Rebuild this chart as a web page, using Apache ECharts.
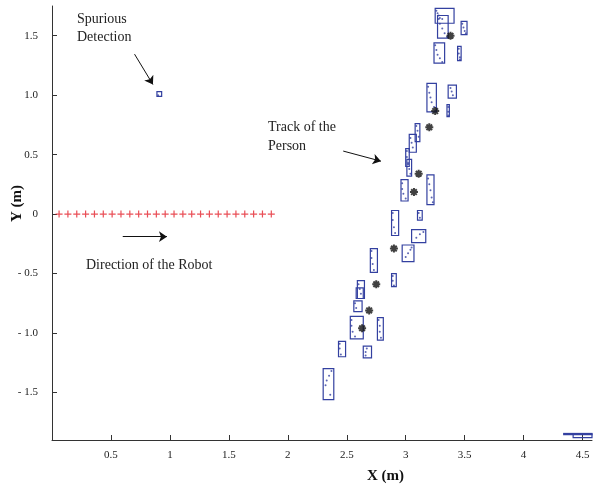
<!DOCTYPE html>
<html>
<head>
<meta charset="utf-8">
<script src="https://cdn.jsdelivr.net/npm/echarts@6/dist/echarts.min.js"></script>
<style>
  html, body { margin: 0; padding: 0; background: #fff; }
  #chart { width: 593px; height: 489px; }
</style>
</head>
<body>
<div id="chart"></div>
<script>
// tick positions
const xTicks = [0.5, 1, 1.5, 2, 2.5, 3, 3.5, 4, 4.5]
const yTicks = [-1.5, -1, -0.5, 0, 0.5, 1, 1.5]

// detection boxes [xmin, ymin, xmax, ymax]
const boxes = [
  [3.25, 1.605, 3.41, 1.73],
  [3.27, 1.48, 3.36, 1.67],
  [3.47, 1.51, 3.52, 1.62],
  [3.24, 1.27, 3.33, 1.44],
  [3.44, 1.29, 3.47, 1.41],
  [3.18, 0.86, 3.26, 1.10],
  [3.36, 0.975, 3.43, 1.085],
  [3.35, 0.82, 3.37, 0.92],
  [3.08, 0.61, 3.12, 0.76],
  [3.03, 0.52, 3.09, 0.67],
  [3.00, 0.40, 3.03, 0.55],
  [3.01, 0.32, 3.05, 0.46],
  [2.96, 0.11, 3.02, 0.29],
  [3.18, 0.08, 3.24, 0.33],
  [2.88, -0.18, 2.94, 0.03],
  [3.10, -0.05, 3.14, 0.03],
  [3.05, -0.24, 3.17, -0.13],
  [2.97, -0.40, 3.07, -0.26],
  [2.70, -0.49, 2.76, -0.29],
  [2.88, -0.61, 2.92, -0.50],
  [2.59, -0.71, 2.65, -0.56],
  [2.58, -0.71, 2.64, -0.62],
  [2.56, -0.82, 2.63, -0.73],
  [2.53, -1.05, 2.64, -0.86],
  [2.76, -1.06, 2.81, -0.87],
  [2.43, -1.20, 2.49, -1.07],
  [2.64, -1.21, 2.71, -1.11],
  [2.30, -1.56, 2.39, -1.30],
  [0.89, 0.99, 0.93, 1.03],
  [4.42, -1.88, 4.58, -1.85],
  [4.34, -1.855, 4.58, -1.845]
]

// laser points inside the boxes
const laserPoints = [
  [3.26, 1.71], [3.27, 1.69], [3.28, 1.67], [3.29, 1.65], [3.31, 1.64],
  [3.28, 1.64], [3.29, 1.60], [3.31, 1.56], [3.33, 1.52], [3.35, 1.49],
  [3.48, 1.60], [3.49, 1.57], [3.50, 1.54], [3.51, 1.52],
  [3.25, 1.42], [3.26, 1.38], [3.27, 1.34], [3.29, 1.31], [3.31, 1.28],
  [3.45, 1.39], [3.45, 1.35], [3.46, 1.32], [3.46, 1.30],
  [3.19, 1.07], [3.20, 1.02], [3.21, 0.98], [3.22, 0.94], [3.24, 0.90], [3.25, 0.87],
  [3.38, 1.06], [3.39, 1.03], [3.40, 1.00],
  [3.36, 0.90], [3.36, 0.86], [3.36, 0.83],
  [3.09, 0.74], [3.10, 0.70], [3.11, 0.65],
  [3.04, 0.64], [3.05, 0.60], [3.06, 0.56],
  [3.01, 0.53], [3.01, 0.48], [3.02, 0.43],
  [3.02, 0.42], [3.03, 0.38], [3.04, 0.34],
  [2.97, 0.26], [2.97, 0.21], [2.98, 0.17], [3.00, 0.13],
  [3.19, 0.30], [3.20, 0.25], [3.21, 0.20], [3.22, 0.14], [3.23, 0.10],
  [2.89, 0.01], [2.89, -0.05], [2.90, -0.11], [2.91, -0.16],
  [3.11, 0.01], [3.12, -0.03],
  [3.09, -0.20], [3.12, -0.17], [3.15, -0.15],
  [3.00, -0.36], [3.02, -0.33], [3.04, -0.30], [3.05, -0.28],
  [2.71, -0.31], [2.71, -0.37], [2.72, -0.42], [2.73, -0.47],
  [2.89, -0.52], [2.89, -0.56], [2.90, -0.60],
  [2.60, -0.59], [2.61, -0.63], [2.62, -0.67],
  [2.57, -0.75], [2.58, -0.79],
  [2.54, -0.89], [2.54, -0.94], [2.55, -0.99], [2.57, -1.03],
  [2.77, -0.89], [2.78, -0.94], [2.78, -0.99], [2.79, -1.04],
  [2.44, -1.09], [2.44, -1.13], [2.45, -1.18],
  [2.67, -1.13], [2.66, -1.16], [2.66, -1.19],
  [2.37, -1.32], [2.35, -1.36], [2.33, -1.40], [2.32, -1.44], [2.36, -1.52],
  [0.90, 1.00]
]

// estimated person positions
const personTrack = [
  [3.38, 1.50], [3.25, 0.866], [3.20, 0.73], [3.11, 0.34], [3.07, 0.185],
  [2.90, -0.29], [2.75, -0.59], [2.69, -0.81], [2.63, -0.96]
]

// robot path
const robotX = [0.06, 0.135, 0.21, 0.285, 0.36, 0.435, 0.51, 0.585, 0.66, 0.735,
  0.81, 0.885, 0.96, 1.035, 1.11, 1.185, 1.26, 1.335, 1.41, 1.485,
  1.56, 1.635, 1.71, 1.785, 1.86]
const robotY = [0, 0, 0, 0, 0, 0, 0, 0, 0, 0, 0, 0, 0, 0, 0, 0, 0, 0, 0, 0, 0, 0, 0, 0, 0]

// annotation arrows [from, to]
const arrows = [
  [[0.70, 1.345], [0.856, 1.09]],
  [[2.47, 0.53], [2.79, 0.445]],
  [[0.60, -0.19], [0.975, -0.19]]
]

const blue = '#3340a0'
const serif = 'Liberation Serif, Times New Roman, serif'

const chart = echarts.init(document.getElementById('chart'))

const fmtY = v => {
  if (Math.abs(v) < 1e-9) return '0'
  return v < 0 ? '- ' + (-v).toFixed(1) : v.toFixed(1)
}

const option = {
  animation: false,
  backgroundColor: '#fff',
  grid: { left: 52, right: 1, top: 6, bottom: 49 },
  xAxis: {
    type: 'value',
    min: 0,
    max: 4.58,
    splitLine: { show: false },
    axisLine: { onZero: false, lineStyle: { color: '#333', width: 1 } },
    axisTick: { inside: true, length: 5, customValues: xTicks, lineStyle: { color: '#333' } },
    axisLabel: { customValues: xTicks, color: '#222', fontFamily: serif, fontSize: 11, margin: 10 }
  },
  yAxis: {
    type: 'value',
    min: -1.9,
    max: 1.75,
    splitLine: { show: false },
    axisLine: { onZero: false, lineStyle: { color: '#333', width: 1 } },
    axisTick: { inside: true, length: 5, customValues: yTicks, lineStyle: { color: '#333' } },
    axisLabel: { customValues: yTicks, color: '#222', fontFamily: serif, fontSize: 11, margin: 14, formatter: fmtY }
  },
  graphic: [
    { type: 'text', left: 77, top: 10, style: { text: 'Spurious\nDetection', font: '14px ' + serif, fill: '#222', lineHeight: 18 } },
    { type: 'text', left: 268, top: 118, style: { text: 'Track of the\nPerson', font: '14px ' + serif, fill: '#222', lineHeight: 19 } },
    { type: 'text', left: 86, top: 258, style: { text: 'Direction of the Robot', font: '14px ' + serif, fill: '#222' } },
    { type: 'text', left: 367, top: 469, style: { text: 'X (m)', font: 'bold 15px ' + serif, fill: '#111' } },
    { type: 'text', x: 10, y: 222, rotation: Math.PI / 2, style: { text: 'Y (m)', font: 'bold 15px ' + serif, fill: '#111' } }
  ],
  series: [
    {
      type: 'custom',
      data: boxes,
      renderItem: (params, api) => {
        const p0 = api.coord([api.value(0), api.value(3)])
        const p1 = api.coord([api.value(2), api.value(1)])
        return {
          type: 'rect',
          shape: { x: p0[0], y: p0[1], width: p1[0] - p0[0], height: p1[1] - p0[1] },
          style: { fill: 'none', stroke: blue, lineWidth: 1.2 }
        }
      },
      encode: { x: [0, 2], y: [1, 3] },
      silent: true
    },
    {
      type: 'scatter',
      data: laserPoints,
      symbol: 'circle',
      symbolSize: 2,
      itemStyle: { color: blue },
      silent: true
    },
    {
      type: 'scatter',
      data: personTrack,
      symbol: 'path://M5,0L5,10M0,5L10,5M1.5,1.5L8.5,8.5M1.5,8.5L8.5,1.5',
      symbolSize: 8,
      itemStyle: { color: 'none', borderColor: '#111', borderWidth: 2 },
      silent: true
    },
    {
      type: 'scatter',
      data: robotX.map((x, i) => [x, robotY[i]]),
      symbol: 'path://M0,5L10,5M5,0L5,10',
      symbolSize: 7,
      itemStyle: { color: 'none', borderColor: '#e4222c', borderWidth: 1.2 },
      silent: true
    },
    {
      type: 'lines',
      coordinateSystem: 'cartesian2d',
      data: arrows.map(a => ({ coords: a })),
      symbol: ['none', 'arrow'],
      symbolSize: 8,
      lineStyle: { color: '#111', width: 1, opacity: 1 },
      silent: true
    }
  ]
}

chart.setOption(option)
</script>
</body>
</html>
